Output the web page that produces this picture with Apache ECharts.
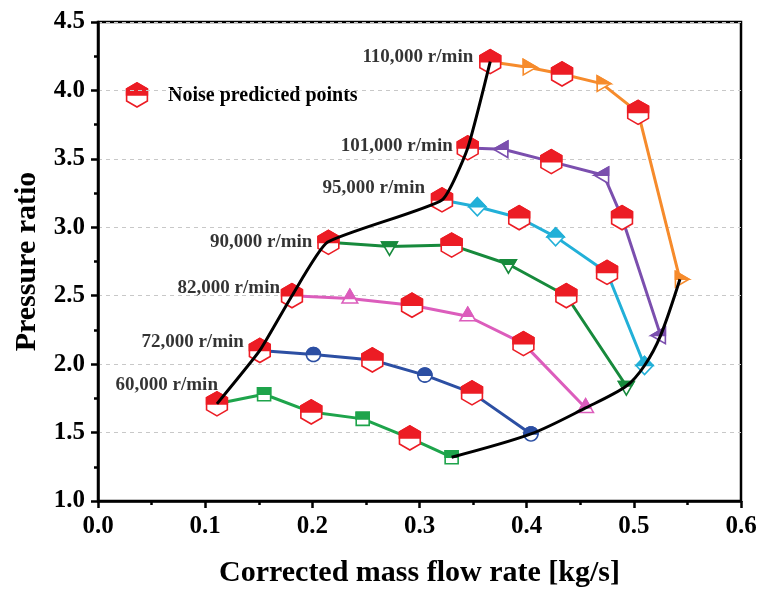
<!DOCTYPE html>
<html>
<head>
<meta charset="utf-8">
<title>Compressor map</title>
<script src="https://cdn.jsdelivr.net/npm/echarts@6/dist/echarts.min.js"></script>
<style>
  html, body { margin: 0; padding: 0; background: #ffffff; }
  #chart { width: 758px; height: 590px; }
</style>
</head>
<body>
<div id="chart"></div>
<script>
// Speed-line names
const speedLabels = ['60,000 r/min', '72,000 r/min', '82,000 r/min', '90,000 r/min',
                     '95,000 r/min', '101,000 r/min', '110,000 r/min'];

// Corrected mass flow rate [kg/s] and pressure ratio along each speed line
// (even positions are the noise predicted points)
const flow60  = [0.111, 0.155, 0.199, 0.247, 0.291, 0.330];
const pr60    = [1.71, 1.78, 1.65, 1.60, 1.46, 1.32];
const flow72  = [0.151, 0.201, 0.256, 0.305, 0.349, 0.404];
const pr72    = [2.10, 2.07, 2.03, 1.92, 1.79, 1.49];
const flow82  = [0.181, 0.235, 0.293, 0.345, 0.397, 0.455];
const pr82    = [2.50, 2.48, 2.43, 2.35, 2.15, 1.68];
const flow90  = [0.215, 0.272, 0.330, 0.383, 0.437, 0.493];
const pr90    = [2.89, 2.86, 2.87, 2.73, 2.50, 1.84];
const flow95  = [0.321, 0.354, 0.393, 0.427, 0.475, 0.510];
const pr95    = [3.20, 3.15, 3.07, 2.93, 2.67, 1.99];
const flow101 = [0.345, 0.378, 0.423, 0.472, 0.489, 0.525];
const pr101   = [3.58, 3.57, 3.48, 3.38, 3.07, 2.21];
const flow110 = [0.366, 0.401, 0.433, 0.470, 0.504, 0.543];
const pr110   = [4.21, 4.17, 4.12, 4.05, 3.84, 2.62];

// Surge line and choke line
const surgeFlow = [0.111, 0.151, 0.181, 0.214, 0.321, 0.345, 0.366];
const surgePR   = [1.71, 2.10, 2.50, 2.89, 3.20, 3.58, 4.21];
const chokeFlow = [0.330, 0.404, 0.455, 0.493, 0.510, 0.525, 0.543];
const chokePR   = [1.32, 1.49, 1.68, 1.84, 1.99, 2.21, 2.62];

const legendText = 'Noise predicted points';
const xAxisTitle = 'Corrected mass flow rate [kg/s]';
const yAxisTitle = 'Pressure ratio';

// ---- styling ----
const FONT = "'Liberation Serif', 'Times New Roman', serif";
const RED = '#ec1c24';
const lineDefs = [
  { flow: flow60,  pr: pr60,  color: '#1ea44b', kind: 'square' },
  { flow: flow72,  pr: pr72,  color: '#2c4fa3', kind: 'circle' },
  { flow: flow82,  pr: pr82,  color: '#dc5dbc', kind: 'triUp' },
  { flow: flow90,  pr: pr90,  color: '#178a3c', kind: 'triDown' },
  { flow: flow95,  pr: pr95,  color: '#22b0d8', kind: 'diamond' },
  { flow: flow101, pr: pr101, color: '#7b4fae', kind: 'triLeft' },
  { flow: flow110, pr: pr110, color: '#f68b2c', kind: 'triRight' }
];
const labelOffsets = [[1, -19], [-16, -8], [-12, -8], [-16, 0], [-17, -12], [-15, -2], [-17, -5]];

// marker outlines, relative to the point centre
function regular(n, r, startDeg) {
  const pts = [];
  for (let k = 0; k < n; k++) {
    const a = (startDeg + k * 360 / n) * Math.PI / 180;
    pts.push([r * Math.cos(a), r * Math.sin(a)]);
  }
  return pts;
}
const shapes = {
  hex: regular(6, 12, -90),
  square: [[-6.5, -6.5], [6.5, -6.5], [6.5, 6.5], [-6.5, 6.5]],
  circle: regular(28, 7, 0),
  triUp: regular(3, 9, -90),
  triDown: regular(3, 9, 90),
  triLeft: regular(3, 9.5, 180),
  triRight: regular(3, 9, 0),
  diamond: [[0, -9], [8.5, 0], [0, 9], [-8.5, 0]]
};

// keep the part of a polygon above its centre line (y <= 0)
function clipTop(pts) {
  const out = [];
  const n = pts.length;
  const cross = (a, b) => {
    const t = (0 - a[1]) / (b[1] - a[1]);
    return [a[0] + t * (b[0] - a[0]), 0];
  };
  for (let i = 0; i < n; i++) {
    const cur = pts[i], prev = pts[(i - 1 + n) % n];
    const curIn = cur[1] <= 0, prevIn = prev[1] <= 0;
    if (curIn) {
      if (!prevIn) out.push(cross(prev, cur));
      out.push(cur);
    } else if (prevIn) {
      out.push(cross(prev, cur));
    }
  }
  return out;
}

// half-filled marker: upper half solid, lower half white
function halfMarker(cx, cy, kind, color) {
  const pts = shapes[kind];
  const move = p => [cx + p[0], cy + p[1]];
  return {
    type: 'group',
    children: [
      { type: 'polygon', shape: { points: pts.map(move) },
        style: { fill: '#ffffff', stroke: color, lineWidth: 1.6 } },
      { type: 'polygon', shape: { points: clipTop(pts).map(move) },
        style: { fill: color, stroke: color, lineWidth: 1.6 } }
    ]
  };
}

const series = [];

// speed lines
lineDefs.forEach(d => {
  series.push({
    type: 'line', z: 2, silent: true,
    data: d.flow.map((x, i) => [x, d.pr[i]]),
    symbol: 'none',
    lineStyle: { color: d.color, width: 3 }
  });
});

// markers on the speed lines
lineDefs.forEach(d => {
  series.push({
    type: 'custom', z: 4, silent: true, clip: false,
    data: d.flow.map((x, i) => [x, d.pr[i], i % 2 === 0 ? 1 : 0]),
    encode: { x: 0, y: 1 },
    renderItem: (params, api) => {
      const c = api.coord([api.value(0), api.value(1)]);
      const noise = api.value(2) === 1;
      return halfMarker(c[0], c[1], noise ? 'hex' : d.kind, noise ? RED : d.color);
    }
  });
});

// surge and choke boundaries
series.push({
  type: 'line', z: 6, silent: true, symbol: 'none', smooth: 0.15,
  data: surgeFlow.map((x, i) => [x, surgePR[i]]),
  lineStyle: { color: '#000000', width: 3 }
});
series.push({
  type: 'line', z: 6, silent: true, symbol: 'none', smooth: 0.3,
  data: chokeFlow.map((x, i) => [x, chokePR[i]]),
  lineStyle: { color: '#000000', width: 3 }
});

// speed labels beside the first point of each line
series.push({
  type: 'scatter', z: 7, silent: true, symbolSize: 0,
  data: lineDefs.map((d, i) => ({
    value: [d.flow[0], d.pr[0]],
    label: { offset: labelOffsets[i] }
  })),
  label: {
    show: true, position: 'left', distance: 0,
    formatter: p => speedLabels[p.dataIndex],
    fontFamily: FONT, fontWeight: 'bold', fontSize: 19, color: '#000000'
  }
});

const chart = echarts.init(document.getElementById('chart'), null, { renderer: 'canvas' });

// legend entry for the noise predicted points
const legendMarker = halfMarker(137, 95, 'hex', RED);
legendMarker.silent = true;
const legendLabel = {
  type: 'text', x: 168, y: 96, silent: true,
  style: { text: legendText, fontFamily: FONT, fontWeight: 'bold', fontSize: 20,
           fill: '#000000', verticalAlign: 'middle', align: 'left' }
};

chart.setOption({
  animation: false,
  backgroundColor: '#ffffff',
  grid: {
    left: 98, right: 17, top: 22, bottom: 89,
    show: true, borderColor: '#000000', borderWidth: 2.5, backgroundColor: 'transparent',
    outerBoundsMode: 'none'
  },
  xAxis: {
    type: 'value', min: 0, max: 0.6, interval: 0.1,
    name: xAxisTitle, nameLocation: 'middle', nameGap: 57,
    nameTextStyle: { fontFamily: FONT, fontWeight: 'bold', fontSize: 30, color: '#000000' },
    axisLine: { show: true, lineStyle: { color: '#000000', width: 2.5 } },
    axisTick: { show: true, length: 7, lineStyle: { color: '#000000', width: 2.5 } },
    minorTick: { show: true, splitNumber: 2, length: 4, lineStyle: { color: '#000000', width: 2.5 } },
    axisLabel: { margin: 13, fontFamily: FONT, fontWeight: 'bold', fontSize: 25, color: '#000000',
                 formatter: v => v.toFixed(1) },
    splitLine: { show: false }
  },
  yAxis: {
    type: 'value', min: 1.0, max: 4.5, interval: 0.5,
    name: yAxisTitle, nameLocation: 'middle', nameGap: 56, nameRotate: 90,
    nameTextStyle: { fontFamily: FONT, fontWeight: 'bold', fontSize: 30, color: '#000000' },
    axisLine: { show: true, lineStyle: { color: '#000000', width: 2.5 } },
    axisTick: { show: true, length: 7, lineStyle: { color: '#000000', width: 2.5 } },
    minorTick: { show: true, splitNumber: 2, length: 4, lineStyle: { color: '#000000', width: 2.5 } },
    axisLabel: { margin: 13, fontFamily: FONT, fontWeight: 'bold', fontSize: 25, color: '#000000',
                 formatter: v => v.toFixed(1) },
    splitLine: { show: true, lineStyle: { color: '#c8c8c8', type: [4, 4], width: 1 } }
  },
  graphic: [legendMarker, legendLabel],
  series: series
});
</script>
</body>
</html>
